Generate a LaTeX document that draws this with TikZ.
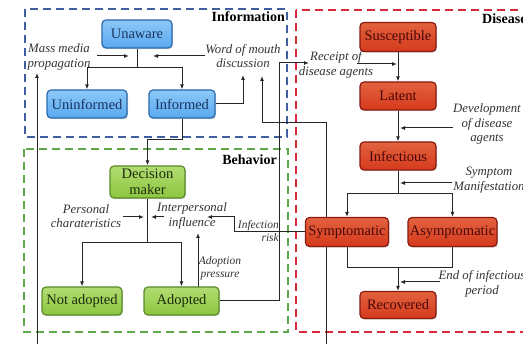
\documentclass[tikz,border=0pt]{standalone}
\usepackage{fontspec}
\setmainfont{Liberation Serif}
\usetikzlibrary{shadows,arrows.meta}
\pgfdeclarelayer{bg}\pgfdeclarelayer{lines}\pgfsetlayers{bg,lines,main}
\definecolor{bluefill}{HTML}{5AA9F0}
\definecolor{bluetop}{HTML}{8CC8F8}
\definecolor{bluebd}{HTML}{2A69AC}
\definecolor{bluetxt}{HTML}{1A355F}
\definecolor{greenfill}{HTML}{8CC63F}
\definecolor{greentop}{HTML}{B2DC72}
\definecolor{greenbd}{HTML}{5A8A2A}
\definecolor{greentxt}{HTML}{1C2A0C}
\definecolor{redfill}{HTML}{D53A1C}
\definecolor{redtop}{HTML}{E2623F}
\definecolor{redbd}{HTML}{8A1A0E}
\definecolor{redtxt}{HTML}{4A0808}
\definecolor{dashblue}{HTML}{3E5E9E}
\definecolor{dashgreen}{HTML}{5EA84A}
\definecolor{dashred}{HTML}{D42A3A}
\tikzset{
  box/.style={rounded corners=4pt, line width=1.2pt, inner sep=0pt, align=center,
    font=\fontsize{14.5}{16}\selectfont,
    drop shadow={shadow xshift=1pt,shadow yshift=-1.2pt,opacity=0.35}},
  bluebox/.style={box, draw=bluebd, top color=bluetop, bottom color=bluefill, text=bluetxt},
  greenbox/.style={box, draw=greenbd, top color=greentop, bottom color=greenfill, text=greentxt},
  redbox/.style={box, draw=redbd, top color=redtop, bottom color=redfill, text=redtxt},
  lbl/.style={font=\itshape\fontsize{12.8}{14.5}\selectfont, align=center, inner sep=0pt, text=black!80},
  slbl/.style={font=\itshape\fontsize{11.5}{12.5}\selectfont, align=center, inner sep=0pt, text=black!80},
  title/.style={font=\bfseries\fontsize{14}{16}\selectfont, inner sep=0pt, text=black},
  conn/.style={line width=1pt, draw=black!85},
  arr/.style={conn, -{Latex[length=5pt,width=4pt]}},
  region/.style={dash pattern=on 8pt off 5pt, line width=1.8pt}
}
\begin{document}
\begin{tikzpicture}[x=1pt,y=-1pt]
\useasboundingbox (0,0) rectangle (523,344);
\begin{pgfonlayer}{bg}
\draw[region, draw=dashblue] (25,9) rectangle (287,137);
\draw[region, draw=dashgreen] (24,149) rectangle (288,332);
\draw[region, draw=dashred] (296,10) rectangle (540,332);
\end{pgfonlayer}
\node[title, anchor=east] (tinfo) at (285,17) {Information};
\node[title, anchor=east] (tbeh) at (277,160) {Behavior};
\node[title, anchor=west] (tdis) at (482,19) {Disease};
% information nodes
\node[bluebox, minimum width=70pt, minimum height=28pt] (unaware) at (137,34) {Unaware};
\node[bluebox, minimum width=80pt, minimum height=28pt] (uninformed) at (87,104) {Uninformed};
\node[bluebox, minimum width=66pt, minimum height=28pt] (informed) at (182,104) {Informed};
% behavior nodes
\node[greenbox, minimum width=75pt, minimum height=32pt] (dm) at (147.5,182) {Decision\\maker};
\node[greenbox, minimum width=80pt, minimum height=28pt] (notad) at (82,301) {Not adopted};
\node[greenbox, minimum width=75pt, minimum height=28pt] (adopted) at (181.5,301) {Adopted};
% disease nodes
\node[redbox, minimum width=76pt, minimum height=29pt] (susc) at (398,37) {Susceptible};
\node[redbox, minimum width=76pt, minimum height=28pt] (latent) at (398,96) {Latent};
\node[redbox, minimum width=76pt, minimum height=28pt] (infect) at (398,156) {Infectious};
\node[redbox, minimum width=83pt, minimum height=29pt] (sympt) at (347,232) {Symptomatic};
\node[redbox, minimum width=89pt, minimum height=29pt] (asympt) at (452.5,232) {Asymptomatic};
\node[redbox, minimum width=76pt, minimum height=27pt] (recov) at (398,305) {Recovered};
% labels
\node[lbl] (mm) at (59,57) {Mass media\\propagation};
\node[lbl] (wom) at (243,56) {Word of mouth\\discussion};
\node[lbl] (pc) at (86,216) {Personal\\charateristics};
\node[lbl] (ip) at (192,216) {Interpersonal\\influence};
\node[slbl] (ap) at (220,268) {Adoption\\pressure};
\node[slbl, align=right, anchor=east] (ir) at (279,231) {Infection\\risk};
\node[lbl] (rc) at (336,65) {Receipt of\\disease agents};
\node[lbl] (dev) at (487,124) {Development\\of disease\\agents};
\node[lbl] (sm) at (489,180) {Symptom\\Manifestation};
\node[lbl] (ei) at (482,284) {End of infectious\\period};
% coordinates
\coordinate (ju) at (137,68);
\coordinate (mmtip) at (129,56);
\coordinate (mmst) at (97,56);
\coordinate (womst) at (205,56);
\coordinate (womtip) at (153,56);
\coordinate (womtip1) at (243,75);
\coordinate (jd) at (147.5,140);
\coordinate (jb) at (147.5,243);
\coordinate (pcst) at (123,217);
\coordinate (pctip) at (144,217);
\coordinate (ipst) at (164,217);
\coordinate (iptip) at (151,217);
\coordinate (ap0) at (198,287);
\coordinate (aptip) at (198,233);
\coordinate (ir1) at (234,217);
\coordinate (irtip) at (207,217);
\coordinate (b1) at (37,346);
\coordinate (b1tip) at (37,73);
\coordinate (b2) at (326,346);
\coordinate (c2) at (262,123);
\coordinate (b2tip) at (262,76);
\coordinate (ra) at (279,63);
\coordinate (ratip) at (309,63);
\coordinate (rbst) at (357,64);
\coordinate (rbtip) at (397,64);
\coordinate (devst) at (453,128);
\coordinate (devtip) at (400,128);
\coordinate (ji) at (398,194);
\coordinate (smst) at (452,183);
\coordinate (smtip) at (400,183);
\coordinate (jr1) at (347,268);
\coordinate (jr2) at (452.5,268);
\coordinate (jr) at (398,268);
\coordinate (eist) at (440,282);
\coordinate (eitip) at (400,282);
\begin{pgfonlayer}{lines}
% information
\draw[conn] (unaware) -- (ju);
\draw[arr] (ju) -| (uninformed);
\draw[arr] (ju) -| (informed);
\draw[arr] (mmst) -- (mmtip);
\draw[arr] (womst) -- (womtip);
\draw[arr] (informed.east) -| (womtip1);
\draw[arr] (informed.south) |- (jd) -- (dm.north);
% behavior
\draw[conn] (dm) -- (jb);
\draw[arr] (jb) -| (notad);
\draw[arr] (jb) -| (adopted);
\draw[arr] (pcst) -- (pctip);
\draw[arr] (ipst) -- (iptip);
\draw[arr] (ap0) -- (aptip);
\draw[arr] (sympt.west) -| (ir1) -- (irtip);
\draw[arr] (adopted.east) -| (ra) -- (ratip);
\draw[arr] (b1) -- (b1tip);
\draw[arr] (b2) |- (c2) -- (b2tip);
% disease
\draw[arr] (susc) -- (latent);
\draw[arr] (rbst) -- (rbtip);
\draw[arr] (latent) -- (infect);
\draw[arr] (devst) -- (devtip);
\draw[conn] (infect) -- (ji);
\draw[arr] (ji) -| (sympt);
\draw[arr] (ji) -| (asympt);
\draw[arr] (smst) -- (smtip);
\draw[conn] (sympt) -- (jr1) -- (jr2) -- (asympt);
\draw[arr] (jr) -- (recov);
\draw[arr] (eist) -- (eitip);
\end{pgfonlayer}
\end{tikzpicture}
\end{document}
